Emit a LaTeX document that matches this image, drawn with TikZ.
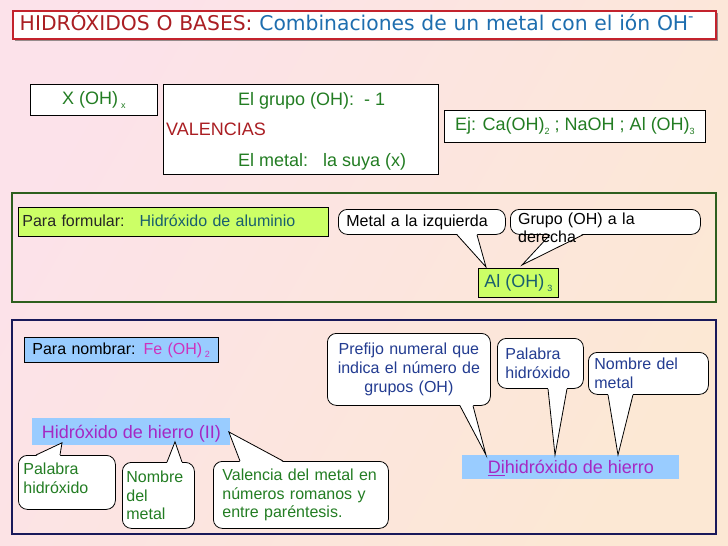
\documentclass[tikz,border=0pt]{standalone}
\usepackage{fontspec}
\setmainfont{Liberation Sans}
\newfontfamily\dejavu{DejaVu Sans}

\definecolor{fondoA}{RGB}{252,226,234}
\definecolor{fondoB}{RGB}{252,232,212}
\definecolor{rojoborde}{RGB}{195,35,45}
\definecolor{rojo}{RGB}{170,30,35}
\definecolor{azultit}{RGB}{30,110,175}
\definecolor{verde}{RGB}{35,125,35}
\definecolor{verdemarco}{RGB}{45,95,30}
\definecolor{lima}{RGB}{204,255,102}
\definecolor{verdeazul}{RGB}{25,95,110}
\definecolor{azulmarco}{RGB}{25,25,90}
\definecolor{celeste}{RGB}{153,204,255}
\definecolor{rosa}{RGB}{205,50,190}
\definecolor{morado}{RGB}{165,40,195}
\definecolor{azul}{RGB}{35,60,145}
\definecolor{sombra}{RGB}{150,140,140}

\newcommand{\grande}{\fontsize{18}{21}\selectfont}
\newcommand{\medio}{\fontsize{16}{18.5}\selectfont}
\newcommand{\bajo}[1]{\raisebox{-0.4ex}{\fontsize{9}{9}\selectfont #1}}
\newcommand{\picoabajo}[4]{%
  \fill[white] ([xshift=#2,yshift=1pt]#1.south west) -- #4 -- ([xshift=#3,yshift=1pt]#1.south west) -- cycle;
  \draw[linea] ([xshift=#2]#1.south west) -- #4 -- ([xshift=#3]#1.south west);}
\newcommand{\picoarriba}[4]{%
  \fill[white] ([xshift=#2,yshift=-1pt]#1.north west) -- #4 -- ([xshift=#3,yshift=-1pt]#1.north west) -- cycle;
  \draw[linea] ([xshift=#2]#1.north west) -- #4 -- ([xshift=#3]#1.north west);}

\tikzset{
  linea/.style={line width=0.8pt},
  caja/.style={draw, linea, anchor=north west, inner sep=0pt},
  unalinea/.style={font=\medio, text height=11.6pt, text depth=3.4pt},
  unalineag/.style={font=\grande, text height=13pt, text depth=4pt},
  burbuja/.style={draw, linea, fill=white, rounded corners=9pt, anchor=north west, align=left, inner ysep=0pt, font=\medio},
  texto/.style={anchor=base west, inner sep=0pt},
}

\begin{document}
\begin{tikzpicture}[x=1pt,y=-1pt]
\useasboundingbox (0,0) rectangle (728,546);
\shade[left color=fondoA, right color=fondoB, shading angle=60] (0,0) rectangle (728,546);

\fill[sombra] (15,13) rectangle (718,41);
\node[caja, draw=rojoborde, line width=1.5pt, fill=white, minimum width=703pt, minimum height=28pt, text width=689pt, inner xsep=7pt, align=left, font=\dejavu\fontsize{20.3}{24}\selectfont, text height=15pt, text depth=3pt] (titulo) at (12,10)
  {\textcolor{rojo}{HIDRÓXIDOS O BASES:} \textcolor{azultit}{Combinaciones de un metal con el ión OH\raisebox{0.8ex}{\fontsize{15}{15}\selectfont -}}};

\node[caja, fill=white, minimum width=127pt, minimum height=31pt, unalineag, text=verde] (formula) at (30,84) {X (OH)\,\bajo{x}};
\node[caja, fill=white, minimum width=275pt, minimum height=90pt] (valencias) at (163,84) {};
\node[texto, font=\grande, text=verde] (grupooh) at (238,105) {El grupo (OH):\ \ - 1};
\node[texto, font=\grande, text=rojo] (valtxt) at (166,135) {VALENCIAS};
\node[texto, font=\grande, text=verde] (metalx) at (238,166) {El metal:\ \ \ la suya (x)};
\node[caja, fill=white, minimum width=261pt, minimum height=32pt, unalineag, text=verde] (ejemplo) at (444,110)
  {Ej: Ca(OH)\bajo{2} ; NaOH ; Al (OH)\bajo{3}};

\draw[verdemarco, line width=2.5pt] (12,193) rectangle (716,302);
\node[caja, fill=lima, minimum width=310pt, minimum height=29pt, text width=302pt, inner xsep=4pt, align=left, unalinea] (formular) at (18,207)
  {\textcolor{black!85}{Para formular:}\hspace{15pt}\textcolor{verdeazul}{Hidróxido de aluminio}};
\node[caja, fill=lima, minimum width=80pt, minimum height=29pt, unalineag, text=verdeazul] (al) at (478,268) {Al (OH)\,\bajo{3}};
\node[burbuja, minimum width=167pt, minimum height=25pt, text width=151pt, inner xsep=8pt, unalinea] (metal) at (338,209) {Metal a la izquierda};
\picoabajo{metal}{119pt}{139pt}{([xshift=8pt,yshift=1pt]al.north west)}
\node[burbuja, minimum width=190pt, minimum height=25pt] (grupo) at (510,209) {};
\picoabajo{grupo}{40pt}{73pt}{([xshift=44pt,yshift=3pt]al.north west)}
\node[anchor=north west, inner sep=0pt, text width=180pt, align=left, font=\medio] (grupotxt) at (518,212.5) {Grupo (OH) a la\\derecha};

\draw[azulmarco, line width=2.5pt] (12,320) rectangle (716,534);
\node[caja, fill=celeste, minimum width=194pt, minimum height=25pt, text width=178pt, inner xsep=8pt, align=left, unalinea] (nombrar) at (24,337)
  {Para nombrar: \textcolor{rosa}{Fe (OH)\,\bajo{2}}};
\node[caja, draw=none, fill=celeste, minimum width=198pt, minimum height=27pt, font=\grande, text height=15pt, text depth=2pt, text=morado] (hdh) at (32,418)
  {Hidróxido de hierro (II)};
\node[caja, draw=none, fill=celeste, minimum width=217pt, minimum height=24pt, font=\grande, text height=14pt, text depth=2pt, text=morado] (dih) at (462,455)
  {\underline{Di}hidróxido de hierro};

\node[burbuja, minimum width=97pt, minimum height=54pt, text width=87pt, inner xsep=5pt, text depth=26.5pt, text=verde] (palabra) at (18,455) {Palabra\\hidróxido};
\picoarriba{palabra}{18pt}{42pt}{([xshift=30pt,yshift=3pt]hdh.south west)}
\node[burbuja, minimum width=72pt, minimum height=66pt, text width=64pt, inner xsep=4pt, text=verde] (nombre) at (122,462) {Nombre\\del\\metal};
\picoarriba{nombre}{45pt}{60pt}{([xshift=143pt,yshift=4pt]hdh.south west)}
\node[burbuja, minimum width=175pt, minimum height=67pt, text width=157pt, inner xsep=9pt, text=verde] (valencia) at (213,461)
  {Valencia del metal en\\números romanos y\\entre paréntesis.};
\picoarriba{valencia}{27pt}{70pt}{([xshift=-2pt]hdh.east)}

\node[burbuja, minimum width=163pt, minimum height=72pt, text width=155pt, inner xsep=4pt, align=center, font=\fontsize{16}{19}\selectfont, text=azul] (prefijo) at (327,333)
  {Prefijo numeral que\\indica el número de\\grupos (OH)};
\picoabajo{prefijo}{133pt}{146pt}{([xshift=24pt]dih.north west)}
\node[burbuja, minimum width=86pt, minimum height=50pt, text width=70pt, inner xsep=8pt, font=\fontsize{16}{19.5}\selectfont, text=azul] (palabrab) at (497,338) {Palabra\\hidróxido};
\picoabajo{palabrab}{51pt}{70pt}{([xshift=93pt]dih.north west)}
\node[burbuja, minimum width=120pt, minimum height=42pt, text width=108pt, inner xsep=6pt, text=azul] (nombreb) at (588,352) {Nombre del\\metal};
\picoabajo{nombreb}{20pt}{45pt}{([xshift=156pt]dih.north west)}
\end{tikzpicture}
\end{document}
